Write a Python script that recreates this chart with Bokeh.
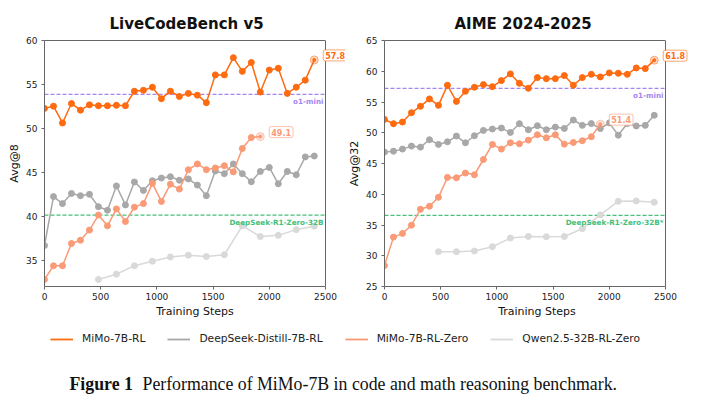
from bokeh.plotting import figure
from bokeh.layouts import column, row
from bokeh.models import (Range1d, Span, Label, Legend, LegendItem, FixedTicker,
                          LinearAxis)
from bokeh.embed import file_html
from bokeh.resources import INLINE

# ---------------- data ----------------
steps = [0, 80, 160, 240, 320, 400, 480, 560, 640, 720, 800, 880, 960, 1040, 1120,
         1200, 1280, 1360, 1440, 1520, 1600, 1680, 1760, 1840, 1920, 2000, 2080,
         2160, 2240, 2320, 2400]
zero_steps = [0, 80, 160, 240, 320, 400, 480, 560, 640, 720, 800, 880, 960, 1040,
              1120, 1200, 1280, 1360, 1440, 1520, 1600, 1680, 1760, 1840, 1920]
qwen_steps = [480, 640, 800, 960, 1120, 1280, 1440, 1600, 1760, 1920, 2080, 2240, 2400]

series_names = ["MiMo-7B-RL", "DeepSeek-Distill-7B-RL", "MiMo-7B-RL-Zero", "Qwen2.5-32B-RL-Zero"]

lcb_rl = [52.3, 52.55, 50.65, 52.85, 52.1, 52.7, 52.6, 52.6, 52.65, 52.6, 54.25, 54.35,
          54.7, 53.4, 54.25, 53.65, 54.0, 53.8, 52.95, 56.1, 56.1, 58.05, 56.5, 57.5,
          54.15, 56.65, 56.85, 54.0, 54.7, 55.5, 57.8]
lcb_distill = [36.75, 42.3, 41.5, 42.65, 42.4, 42.55, 41.15, 40.75, 43.5, 41.35, 43.95,
               43.0, 44.1, 44.4, 44.55, 44.15, 44.3, 43.6, 42.4, 45.2, 44.9, 46.0, 44.9,
               43.98, 45.15, 45.6, 43.75, 45.15, 44.77, 46.8, 46.9]
lcb_zero = [32.9, 34.45, 34.45, 36.97, 37.35, 38.5, 40.2, 38.98, 40.9, 39.47, 41.1, 41.5,
            43.8, 41.75, 43.7, 43.15, 45.35, 46.0, 45.35, 45.55, 45.8, 45.1, 47.75, 49.0, 49.1]
lcb_qwen = [32.9, 33.5, 34.45, 34.97, 35.45, 35.65, 35.5, 35.7, 38.98, 37.77, 37.9, 38.55, 38.94]

aime_rl = [52.17, 51.47, 51.74, 53.26, 54.3, 55.5, 54.46, 57.72, 55.1, 56.74, 57.4, 57.83,
           57.5, 58.48, 59.57, 58.04, 57.23, 58.97, 58.8, 58.8, 59.3, 57.72, 58.97, 59.5,
           59.08, 59.73, 59.67, 59.5, 60.54, 60.43, 61.8]
aime_distill = [46.85, 47.0, 47.34, 47.83, 47.66, 48.86, 48.1, 48.53, 49.46, 48.37, 49.51,
                50.38, 50.6, 50.76, 50.05, 51.47, 50.49, 51.14, 50.49, 50.92, 50.7, 52.07,
                51.2, 51.49, 50.68, 51.6, 49.6, 51.5, 51.1, 51.2, 52.84]
aime_zero = [28.4, 33.03, 33.63, 34.97, 37.56, 38.05, 39.5, 42.74, 42.68, 43.44, 43.17,
             45.65, 48.1, 47.34, 48.37, 48.2, 48.8, 49.67, 49.18, 49.67, 48.15, 48.42,
             48.7, 49.35, 51.4]
aime_qwen = [30.66, 30.66, 30.77, 31.47, 32.87, 33.14, 33.09, 33.14, 34.4, 36.64, 38.85,
             38.9, 38.7]

titles = ["LiveCodeBench v5", "AIME 2024-2025"]
y_labels = ["Avg@8", "Avg@32"]
x_label = "Training Steps"
x_ticks = [0, 500, 1000, 1500, 2000, 2500]
lcb_ticks = [35, 40, 45, 50, 55, 60]
aime_ticks = [25, 30, 35, 40, 45, 50, 55, 60, 65]
o1_mini = [53.88, 57.22]
r1_zero = [40.2, 36.57]
o1_label = "o1-mini"
r1_labels = ["DeepSeek-R1-Zero-32B", "DeepSeek-R1-Zero-32B*"]
caption_bold = "Figure 1"
caption_text = "Performance of MiMo-7B in code and math reasoning benchmark."

# ---------------- style ----------------
COLORS = ["#fe6a10", "#a8a8a8", "#fa9a76", "#d9d9d9"]
PURPLE = "#a486ef"
GREEN = "#45c079"
SPINE = "#666666"
FONT = "DejaVu Sans"
AX_W = 281  # pixel width of the boxed axes area


def make_panel(title, title_offset, ylabel, yr, yticks, series, o1, r1, r1_text,
               border_left, frame_w, labelled):
    x0, x1 = x_ticks[0], x_ticks[-1]
    # the frame is a little wider than the boxed axes so the end labels can
    # overhang the right spine, as in the reference
    x_end = x1 * frame_w / AX_W
    p = figure(frame_width=frame_w, frame_height=246,
               x_range=Range1d(x0, x_end), y_range=Range1d(*yr),
               min_border_left=border_left, min_border_right=0,
               min_border_top=40, min_border_bottom=34,
               output_backend="svg", toolbar_location=None, title=title)
    p.title.align = "left"
    p.title.offset = title_offset
    p.title.text_font = FONT
    p.title.text_font_style = "bold"
    p.title.text_font_size = "15px"
    p.title.text_color = "#111111"
    p.title.standoff = 16
    p.grid.visible = False
    p.outline_line_color = None
    p.background_fill_color = "white"
    p.border_fill_color = "white"
    p.xaxis.ticker = FixedTicker(ticks=x_ticks)
    p.yaxis.ticker = FixedTicker(ticks=yticks)
    p.xaxis.bounds = (x0, x1)
    p.xaxis.axis_label = x_label
    p.yaxis.axis_label = ylabel
    for ax in (p.xaxis, p.yaxis):
        ax.axis_line_color = SPINE
        ax.major_tick_line_color = SPINE
        ax.minor_tick_line_color = None
        ax.major_tick_out = 3
        ax.major_tick_in = 0
        ax.major_label_text_font = FONT
        ax.major_label_text_font_size = "9px"
        ax.major_label_text_color = "#222222"
        ax.major_label_standoff = 3
        ax.axis_label_text_font = FONT
        ax.axis_label_text_font_size = "11px"
        ax.axis_label_text_font_style = "normal"
        ax.axis_label_text_color = "#111111"
        ax.axis_label_standoff = 2
    p.yaxis.major_label_standoff = 4
    # top and right spines
    top = LinearAxis(bounds=(x0, x1), ticker=FixedTicker(ticks=[]),
                     axis_line_color=SPINE, major_tick_line_color=None,
                     minor_tick_line_color=None, major_tick_out=0, major_tick_in=0,
                     major_label_standoff=0)
    p.add_layout(top, "above")
    p.add_layout(Span(location=x1, dimension="height", line_color=SPINE, line_width=1))

    # reference lines
    p.line([x0, x1], [o1, o1], line_color=PURPLE, line_dash="4 2", line_width=1.2)
    p.line([x0, x1], [r1, r1], line_color=GREEN, line_dash="4 2", line_width=1.2)
    p.add_layout(Label(x=x1, y=o1, x_offset=-2, y_offset=-7, text=o1_label,
                       text_align="right", text_baseline="middle", text_font=FONT,
                       text_font_style="bold", text_font_size="7.2px", text_color=PURPLE))
    p.add_layout(Label(x=x1, y=r1, x_offset=-2, y_offset=-7, text=r1_text,
                       text_align="right", text_baseline="middle", text_font=FONT,
                       text_font_style="bold", text_font_size="7.2px", text_color=GREEN))

    for idx, (xs, ys) in enumerate(series):
        c = COLORS[idx]
        p.line(xs, ys, line_color=c, line_width=1.5)
        if idx in labelled:
            p.scatter(xs[:-1], ys[:-1], size=6, fill_color=c, line_color=c)
            p.scatter([xs[-1]], [ys[-1]], size=8, fill_color=c, fill_alpha=0.25,
                      line_color=c, line_alpha=0.5, line_width=1)
            p.scatter([xs[-1]], [ys[-1]], size=3, fill_color=c, line_color=c)
            p.add_layout(Label(x=xs[-1], y=ys[-1], x_offset=9, y_offset=4.5,
                               text=f"{ys[-1]:.1f}", text_align="left",
                               text_baseline="middle", text_font=FONT,
                               text_font_style="bold", text_font_size="8px",
                               text_color=c, background_fill_color="white",
                               border_line_color=c, border_line_alpha=0.6,
                               border_line_width=1, padding=2, border_radius=2))
        else:
            p.scatter(xs, ys, size=6, fill_color=c, line_color=c)
    return p


p1 = make_panel(titles[0], 65, y_labels[0], (32.1, 60.0), lcb_ticks,
                [(steps, lcb_rl), (steps, lcb_distill), (zero_steps, lcb_zero),
                 (qwen_steps, lcb_qwen)],
                o1_mini[0], r1_zero[0], r1_labels[0], 44, 301, (0, 2))
p2 = make_panel(titles[1], 70, y_labels[1], (25.0, 65.0), aime_ticks,
                [(steps, aime_rl), (steps, aime_distill), (zero_steps, aime_zero),
                 (qwen_steps, aime_qwen)],
                o1_mini[1], r1_zero[1], r1_labels[1], 36, 305, (0, 2))

# ---------------- legend + caption ----------------
# the legend renderers reuse the LiveCodeBench series; they fall outside this
# strip's ranges, so only their legend glyphs are visible
p3 = figure(width=720, height=91, x_range=Range1d(0, 1), y_range=Range1d(0, 1),
            min_border=0, output_backend="svg", toolbar_location=None,
            x_axis_location=None, y_axis_location=None)
p3.grid.visible = False
p3.outline_line_color = None
legend_series = [(steps, lcb_rl), (steps, lcb_distill), (zero_steps, lcb_zero),
                 (qwen_steps, lcb_qwen)]
items = []
for name, c, (xs, ys) in zip(series_names, COLORS, legend_series):
    r = p3.line(xs, ys, line_color=c, line_width=1.8)
    items.append(LegendItem(label=name, renderers=[r]))
legend = Legend(items=items, orientation="horizontal", location=(50, 66),
                glyph_width=23, glyph_height=12, label_height=12, label_standoff=9,
                spacing=22, padding=0, margin=0, border_line_color=None,
                background_fill_alpha=0, label_text_font=FONT,
                label_text_font_size="10.7px", label_text_color="#222222")
p3.add_layout(legend)
p3.add_layout(Label(x=69, y=28, x_units="screen", y_units="screen", text=caption_bold,
                    text_font="Liberation Serif", text_font_style="bold",
                    text_font_size="17.8px", text_baseline="middle", text_color="#111111"))
p3.add_layout(Label(x=142, y=28, x_units="screen", y_units="screen", text=caption_text,
                    text_font="Liberation Serif", text_font_size="17.8px",
                    text_baseline="middle", text_color="#111111"))

layout = column(row(p1, p2), p3)
open("out.html", "w").write(file_html(layout, INLINE))
